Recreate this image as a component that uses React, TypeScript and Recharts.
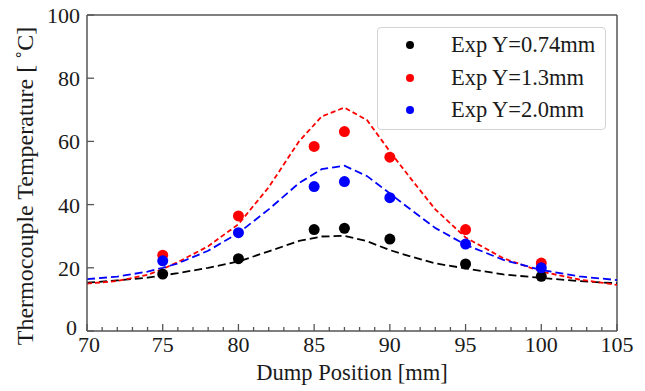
import {
  ComposedChart,
  Line,
  Scatter,
  XAxis,
  YAxis,
  Legend,
  ReferenceLine,
  Label,
} from "recharts";

// measured points
const positions = [75, 80, 85, 87, 90, 95, 100];
const expY074 = [18.0, 22.9, 32.1, 32.5, 29.1, 21.2, 17.3];
const expY13 = [24.0, 36.4, 58.4, 63.1, 55.0, 32.1, 21.5];
const expY20 = [22.2, 31.1, 45.7, 47.3, 42.2, 27.5, 20.0];

// simulated curves (dashed)
const simX = [70, 72, 74, 75, 76, 78, 80, 82, 84, 85.5, 87, 88.5, 90, 91.5, 93, 95, 97.5, 100, 102.5, 105];
const simY074 = [15.3, 16.0, 16.9, 17.6, 18.3, 20.0, 22.0, 25.2, 28.5, 29.9, 30.1, 28.4, 25.6, 23.4, 21.4, 19.8, 17.9, 16.8, 15.8, 15.1];
const simY13 = [15.0, 15.8, 17.8, 19.6, 21.8, 26.8, 33.8, 45.5, 60.0, 67.9, 70.7, 66.7, 56.8, 47.5, 38.5, 29.6, 23.0, 18.8, 16.3, 14.6];
const simY20 = [16.4, 17.2, 18.8, 20.0, 21.4, 25.4, 31.0, 38.5, 46.8, 51.2, 52.3, 49.0, 43.5, 38.0, 32.6, 27.3, 22.5, 19.3, 17.3, 16.1];

const xTicks = Array.from({ length: 36 }, (_, i) => 70 + i);
const yTicks = [0, 20, 40, 60, 80, 100];

const toPoints = (xs: number[], ys: number[]) => xs.map((x, i) => ({ x, y: ys[i] }));

const series = [
  { name: "Exp Y=0.74mm", color: "#000000", dash: "8 4", exp: expY074, sim: simY074 },
  { name: "Exp Y=1.3mm", color: "#ff0000", dash: "5 3", exp: expY13, sim: simY13 },
  { name: "Exp Y=2.0mm", color: "#0000ff", dash: "8 4", exp: expY20, sim: simY20 },
];

const FONT = "'Liberation Serif', 'Times New Roman', serif";
const AXIS = "#555555";

function XTick(props: any) {
  const { x, y, payload } = props;
  const axisY = y - 5;
  const major = payload.value % 5 === 0;
  return (
    <g>
      <line x1={x} x2={x} y1={axisY} y2={axisY - (major ? 7 : 4)} stroke={AXIS} strokeWidth={1.3} />
      {major && (
        <text x={x + (payload.value === 70 ? 2 : 0)} y={y} dy="0.71em" textAnchor="middle" fontSize={22} fontFamily={FONT} fill="#1a1a1a">
          {payload.value}
        </text>
      )}
    </g>
  );
}

function YTick(props: any) {
  const { x, y, payload } = props;
  const axisX = x + 7;
  const isZero = payload.value === 0;
  return (
    <g>
      <line x1={axisX} x2={axisX + 7} y1={y} y2={y} stroke={AXIS} strokeWidth={1.3} />
      <text x={isZero ? x - 3 : x} y={isZero ? y - 4 : y} dy="0.36em" textAnchor="end" fontSize={22} fontFamily={FONT} fill="#1a1a1a">
        {payload.value}
      </text>
    </g>
  );
}

function LegendBox() {
  return (
    <div
      style={{
        width: 229,
        height: 103,
        boxSizing: "border-box",
        border: "1px solid #d4d4d4",
        borderRadius: 4,
        background: "#fff",
        position: "relative",
        fontFamily: FONT,
      }}
    >
      {series.map((s, i) => (
        <div key={s.name} style={{ position: "absolute", left: 0, top: 17 + i * 32.5 - 16, height: 32, width: "100%" }}>
          <span
            style={{
              position: "absolute",
              left: 28,
              top: 12,
              width: 8,
              height: 8,
              borderRadius: "50%",
              background: s.color,
            }}
          />
          <span style={{ position: "absolute", left: 73, top: 1, fontSize: 22.5, lineHeight: "30px", color: "#1a1a1a", whiteSpace: "nowrap" }}>
            {s.name}
          </span>
        </div>
      ))}
    </div>
  );
}

export default function App() {
  return (
    <div style={{ position: "absolute", left: 0, top: 0, width: 645, height: 391, background: "#fff" }}>
      <ComposedChart width={645} height={391} margin={{ top: 15, right: 28, left: 0, bottom: 0 }}>
        <XAxis
          type="number"
          dataKey="x"
          domain={[70, 105]}
          ticks={xTicks}
          interval={0}
          height={60}
          allowDataOverflow
          stroke={AXIS}
          axisLine={{ stroke: AXIS, strokeWidth: 1.5 }}
          tickLine={false}
          tickSize={0}
          tickMargin={5}
          tick={<XTick />}
        >
          <Label
            content={() => (
              <text x={352} y={380} textAnchor="middle" fontSize={22.5} fontFamily={FONT} fill="#1a1a1a">
                Dump Position [mm]
              </text>
            )}
          />
        </XAxis>
        <YAxis
          type="number"
          dataKey="y"
          domain={[0, 100]}
          ticks={yTicks}
          interval={0}
          width={87}
          allowDataOverflow
          axisLine={{ stroke: AXIS, strokeWidth: 1.5 }}
          tickLine={false}
          tickSize={0}
          tickMargin={7}
          tick={<YTick />}
        >
          <Label
            content={() => (
              <text
                x={33}
                y={186}
                transform="rotate(-90 33 186)"
                textAnchor="middle"
                fontSize={24}
                fontFamily={FONT}
                fill="#1a1a1a"
              >
                Thermocouple Temperature [ ˚C]
              </text>
            )}
          />
        </YAxis>
        <ReferenceLine y={100} stroke={AXIS} strokeWidth={1.5} />
        <ReferenceLine x={105} stroke={AXIS} strokeWidth={1.5} />
        {series.map((s) => (
          <Line
            key={"sim" + s.name}
            data={toPoints(simX, s.sim)}
            dataKey="y"
            type="linear"
            stroke={s.color}
            strokeWidth={1.8}
            strokeDasharray={s.dash}
            dot={false}
            legendType="none"
            isAnimationActive={false}
          />
        ))}
        {series.map((s) => (
          <Scatter
            key={s.name}
            name={s.name}
            data={toPoints(positions, s.exp)}
            fill={s.color}
            isAnimationActive={false}
            shape={(p: any) => <circle cx={p.cx} cy={p.cy} r={5.5} fill={s.color} />}
          />
        ))}
        <Legend
          layout="vertical"
          align="center"
          verticalAlign="middle"
          wrapperStyle={{ left: 377, top: 27, width: 229 }}
          content={() => <LegendBox />}
        />
      </ComposedChart>
    </div>
  );
}
